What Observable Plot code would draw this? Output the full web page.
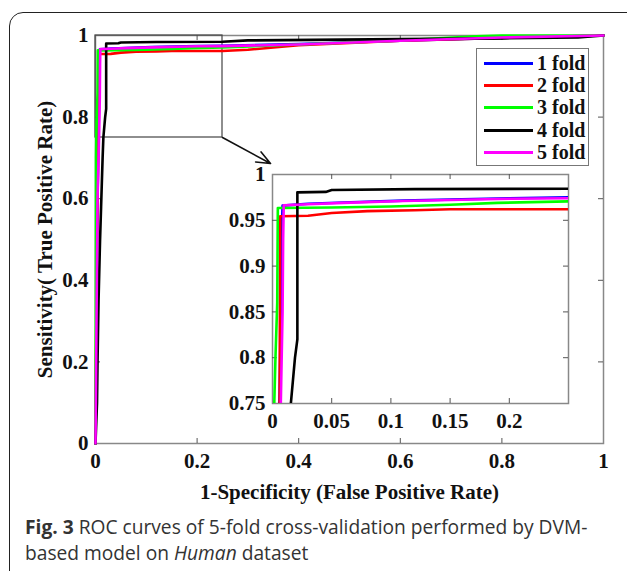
<!DOCTYPE html>
<html>
<head>
<meta charset="utf-8">
<script src="https://cdn.jsdelivr.net/npm/d3@7"></script>
<script src="https://cdn.jsdelivr.net/npm/@observablehq/plot@0.6"></script>
<style>
  html, body { margin: 0; padding: 0; background: #fff; width: 627px; height: 571px; overflow: hidden; }
  #page { position: relative; width: 627px; height: 571px; }
  #border { position: absolute; left: 9px; top: 12px; width: 660px; height: 620px; border: 1.5px solid #222; border-radius: 14px; box-sizing: border-box; }
  #main { position: absolute; left: 0; top: 0; }
  #inset { position: absolute; }
  #legend { position: absolute; left: 476px; top: 48px; width: 113px; height: 118px; box-sizing: border-box; border: 1.5px solid #777; background: #fff;
            font-family: "Liberation Serif", serif; font-weight: bold; font-size: 20px; color: #111; padding-top: 3px; }
  .row { display: flex; align-items: center; height: 22.3px; }
  .sw { width: 49px; height: 3px; margin-left: 7px; margin-right: 4px; }
  #caption { position: absolute; left: 25px; top: 514px; font-family: "Open Sans", sans-serif; font-size: 19.2px; line-height: 26px; color: #333; white-space: nowrap; }
</style>
</head>
<body>
<div id="page">
  <div id="border"></div>
  <div id="main"></div>
  <div id="inset"></div>
  <div id="legend"></div>
  <div id="caption"><b>Fig. 3</b> ROC curves of 5-fold cross-validation performed by DVM-<br>based model on <i>Human</i> dataset</div>
</div>
<script>
// ---- data: [false positive rate, true positive rate] per fold ----
const foldNames = ["1 fold", "2 fold", "3 fold", "4 fold", "5 fold"];
const foldColors = ["#0000ff", "#ff0000", "#00ff00", "#000000", "#ff00ff"];

const fold1 = [[0,0],[0.002,0.3],[0.004,0.6],[0.0065,0.8],[0.0075,0.92],[0.0085,0.966],[0.03,0.968],[0.06,0.9695],[0.11,0.9715],[0.2,0.974],[0.25,0.975],[0.4,0.979],[0.6,0.987],[0.8,0.994],[1,1]];
const fold2 = [[0,0],[0.001,0.2],[0.003,0.5],[0.005,0.7],[0.006,0.75],[0.0065,0.9545],[0.03,0.955],[0.05,0.958],[0.08,0.96],[0.12,0.961],[0.15,0.962],[0.25,0.962],[0.3,0.965],[0.4,0.976],[0.5,0.982],[0.6,0.987],[0.8,0.994],[1,1]];
const fold3 = [[0,0],[0.0005,0.3],[0.001,0.7],[0.0015,0.75],[0.0025,0.8],[0.004,0.86],[0.0045,0.9635],[0.05,0.964],[0.1,0.965],[0.15,0.967],[0.19,0.969],[0.25,0.9707],[0.4,0.978],[0.6,0.988],[0.75,0.998],[0.8,1],[1,1]];
const fold4 = [[0,0],[0.003,0.1],[0.004,0.2],[0.006,0.35],[0.009,0.5],[0.011,0.58],[0.014,0.7],[0.0155,0.75],[0.019,0.8],[0.021,0.82],[0.021,0.9805],[0.045,0.981],[0.05,0.983],[0.12,0.984],[0.25,0.9845],[0.3,0.988],[0.6,0.991],[0.8,0.993],[0.95,0.995],[1,1]];
const fold5 = [[0,0],[0.002,0.3],[0.004,0.6],[0.007,0.75],[0.0085,0.85],[0.009,0.93],[0.0095,0.9665],[0.03,0.9675],[0.06,0.969],[0.11,0.971],[0.2,0.9735],[0.25,0.974],[0.4,0.978],[0.6,0.987],[0.8,0.995],[1,1]];

const mainTicks = [0, 0.2, 0.4, 0.6, 0.8, 1];
const insetXTicks = [0, 0.05, 0.1, 0.15, 0.2];
const insetYTicks = [0.75, 0.8, 0.85, 0.9, 0.95, 1];
const zoomX = [0, 0.25];
const zoomY = [0.75, 1];
const xLabel = "1-Specificity (False Positive Rate)";
const yLabel = "Sensitivity( True Positive Rate)";

const folds = [fold1, fold2, fold3, fold4, fold5];
const rows = folds.flatMap((f, i) => f.map(([x, y]) => ({fold: foldNames[i], x, y})));

const fmt = d3.format("~g");
const font = {fontFamily: "Liberation Serif, serif", fontWeight: "bold", fontSize: "21px", color: "#111", background: "transparent", overflow: "visible"};

// ---- main chart layout ----
const W = 627, H = 505, mL = 95, mR = 24, mT = 35, mB = 62;
const pw = W - mL - mR, ph = H - mT - mB;

// ---- inset layout ----
const iLeft = 222, iTop = 159, iW = 356, iH = 278, imL = 50, imR = 10, imT = 15, imB = 34;
const iph = iH - imT - imB, ipw = iW - imL - imR;

// arrow end: inset top-left corner (slightly above) in main data coordinates
const arrowEndX = ((iLeft + imL - 2) - mL) / pw;
const arrowEndY = 1 - ((iTop + imT - 11) - mT) / ph;

function lines(clip) {
  return foldNames.map((name, i) =>
    Plot.line(rows.filter(r => r.fold === name), {x: "x", y: "y", stroke: foldColors[i], strokeWidth: 2.6, clip}));
}

const main = Plot.plot({
  width: W, height: H,
  marginLeft: mL, marginRight: mR, marginTop: mT, marginBottom: mB,
  style: font,
  x: {domain: [0, 1], ticks: mainTicks, tickFormat: fmt, tickSize: 0, tickPadding: 10, label: null},
  y: {domain: [0, 1], ticks: mainTicks, tickFormat: fmt, tickSize: 0, tickPadding: 7, label: null},
  marks: [
    Plot.frame({stroke: "#888", strokeWidth: 1.5}),
    Plot.tickX(mainTicks.slice(1, -1), {x: d => d, insetTop: ph - 5, stroke: "#555"}),
    Plot.tickX(mainTicks.slice(1, -1), {x: d => d, insetBottom: ph - 5, stroke: "#555"}),
    Plot.tickY(mainTicks.slice(1, -1), {y: d => d, insetRight: pw - 5, stroke: "#555"}),
    Plot.tickY(mainTicks.slice(1, -1), {y: d => d, insetLeft: pw - 5, stroke: "#555"}),
    Plot.text([xLabel], {text: d => d, frameAnchor: "bottom", dy: 49, lineAnchor: "middle", textAnchor: "middle", fontSize: 21, fill: "#111"}),
    Plot.text([yLabel], {text: d => d, frameAnchor: "left", dx: -50, rotate: -90, lineAnchor: "middle", textAnchor: "middle", fontSize: 21, fill: "#111"}),
    Plot.rect([0], {x1: zoomX[0], x2: zoomX[1], y1: zoomY[0], y2: zoomY[1], stroke: "#444", strokeWidth: 1.2, fill: "none"}),
    ...lines(false),
    Plot.arrow([0], {x1: zoomX[1], y1: zoomY[0], x2: arrowEndX, y2: arrowEndY, stroke: "#111", strokeWidth: 1.6, headLength: 14, headAngle: 45})
  ]
});
document.getElementById("main").appendChild(main);

const inset = Plot.plot({
  width: iW, height: iH,
  marginLeft: imL, marginRight: imR, marginTop: imT, marginBottom: imB,
  style: font,
  x: {domain: zoomX, ticks: insetXTicks, tickFormat: fmt, tickSize: 0, tickPadding: 10, label: null},
  y: {domain: zoomY, ticks: insetYTicks, tickFormat: fmt, tickSize: 0, tickPadding: 7, label: null},
  marks: [
    Plot.frame({stroke: "#888", strokeWidth: 1.5, fill: "#fff"}),
    Plot.tickX(insetXTicks.slice(1), {x: d => d, insetTop: iph - 5, stroke: "#555"}),
    Plot.tickX(insetXTicks.slice(1), {x: d => d, insetBottom: iph - 5, stroke: "#555"}),
    Plot.tickY(insetYTicks.slice(1, -1), {y: d => d, insetRight: ipw - 5, stroke: "#555"}),
    Plot.tickY(insetYTicks.slice(1, -1), {y: d => d, insetLeft: ipw - 5, stroke: "#555"}),
    ...lines(true)
  ]
});
const insetDiv = document.getElementById("inset");
insetDiv.style.left = iLeft + "px";
insetDiv.style.top = iTop + "px";
insetDiv.appendChild(inset);

// legend
const legend = document.getElementById("legend");
foldNames.forEach((name, i) => {
  const row = document.createElement("div");
  row.className = "row";
  const sw = document.createElement("div");
  sw.className = "sw";
  sw.style.background = foldColors[i];
  const label = document.createElement("span");
  label.textContent = name;
  row.appendChild(sw);
  row.appendChild(label);
  legend.appendChild(row);
});
</script>
</body>
</html>
